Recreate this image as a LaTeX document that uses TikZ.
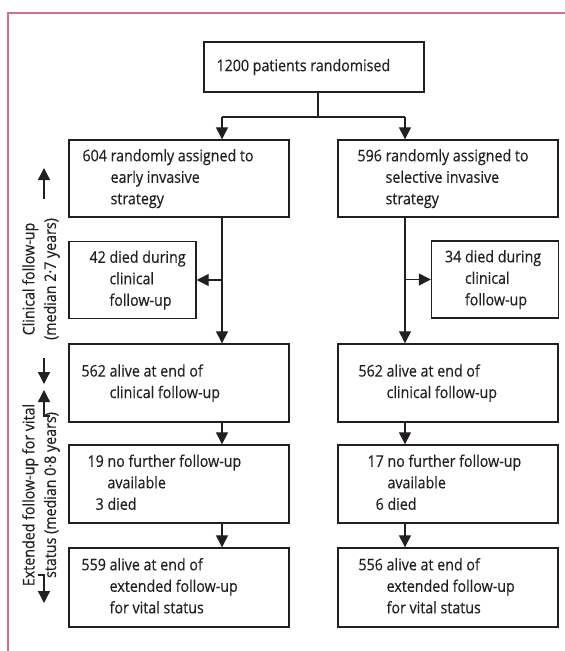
\documentclass[tikz,border=0pt]{standalone}
\usepackage{fontspec}
\setmainfont[FakeStretch=0.89,FakeBold=0.4]{Open Sans}
\usetikzlibrary{arrows.meta}
\definecolor{framecol}{RGB}{212,112,143}
\definecolor{ink}{RGB}{35,31,32}
\begin{document}
\begin{tikzpicture}[x=1pt,y=-1pt,
  font=\fontsize{16}{21.5}\selectfont,
  box/.style={draw=ink,line width=1.4pt,inner sep=0pt,minimum width=220pt,minimum height=78pt},
  smallbox/.style={box,minimum width=127pt,minimum height=77pt},
  txt/.style={inner sep=0pt,anchor=west,text=ink},
  conn/.style={draw=ink,line width=1.3pt},
  arr/.style={conn,-{Triangle[width=12pt,length=12pt]}},
  lab/.style={rotate=90,align=center,inner sep=0pt,text=ink}]
\useasboundingbox (0,0) rectangle (565,651);
% frame
\draw[framecol,line width=1.6pt] (565,13) -- (8,13) -- (8,651);
% boxes
\node[box,minimum height=50pt] (top) at (314,67) {};
\node[box,minimum height=77pt] (A) at (179,178.5) {};
\node[box,minimum height=77pt] (B) at (448,178.5) {};
\node[smallbox] (DA) at (132.5,280) {};
\node[smallbox] (DB) at (495,279.5) {};
\node[box] (CA) at (179,383) {};
\node[box] (CB) at (448,383) {};
\node[box] (NA) at (179,484) {};
\node[box] (NB) at (448,484) {};
\node[box,minimum height=79pt] (EA) at (179,587.5) {};
\node[box,minimum height=79pt] (EB) at (448,587.5) {};
% texts
\node[txt] (ttop) at ([xshift=13pt]top.west) {1200 patients randomised};
\node[txt] (tA) at ([xshift=14pt]A.west) {\begin{tabular}{@{}r@{\ }l@{}}604 & randomly assigned to\\ & early invasive\\ & strategy\end{tabular}};
\node[txt] (tB) at ([xshift=20pt]B.west) {\begin{tabular}{@{}r@{\ }l@{}}596 & randomly assigned to\\ & selective invasive\\ & strategy\end{tabular}};
\node[txt] (tDA) at ([xshift=21pt]DA.west) {\begin{tabular}{@{}r@{\ }l@{}}42 & died during\\ & clinical\\ & follow-up\end{tabular}};
\node[txt] (tDB) at ([xshift=14pt]DB.west) {\begin{tabular}{@{}r@{\ }l@{}}34 & died during\\ & clinical\\ & follow-up\end{tabular}};
\node[txt] (tCA) at ([xshift=13pt]CA.west) {\begin{tabular}{@{}r@{\ }l@{}}562 & alive at end of\\ & clinical follow-up\end{tabular}};
\node[txt] (tCB) at ([xshift=21pt]CB.west) {\begin{tabular}{@{}r@{\ }l@{}}562 & alive at end of\\ & clinical follow-up\end{tabular}};
\node[txt] (tNA) at ([xshift=19pt]NA.west) {\begin{tabular}{@{}r@{\ }l@{}}19 & no further follow-up\\ & available\\ \multicolumn{2}{@{}l@{}}{\hphantom{1}3 died}\end{tabular}};
\node[txt] (tNB) at ([xshift=30pt]NB.west) {\begin{tabular}{@{}r@{\ }l@{}}17 & no further follow-up\\ & available\\ \multicolumn{2}{@{}l@{}}{\hphantom{1}6 died}\end{tabular}};
\node[txt] (tEA) at ([xshift=13pt]EA.west) {\begin{tabular}{@{}r@{\ }l@{}}559 & alive at end of\\ & extended follow-up\\ & for vital status\end{tabular}};
\node[txt] (tEB) at ([xshift=21pt]EB.west) {\begin{tabular}{@{}r@{\ }l@{}}556 & alive at end of\\ & extended follow-up\\ & for vital status\end{tabular}};
% connectors
\coordinate (J) at (318,117);
\coordinate (L) at (222,117);
\coordinate (R) at (405,117);
\draw[conn] (J |- top.south) -- (J);
\draw[conn] (L) -- (R);
\draw[arr] (L) -- (L |- A.north);
\draw[arr] (R) -- (R |- B.north);
\draw[arr] (L |- A.south) -- (L |- CA.north);
\draw[arr] (R |- B.south) -- (R |- CB.north);
\draw[arr] (L |- DA.east) -- (DA.east);
\draw[arr] (R |- DB.west) -- (DB.west);
\draw[arr] (L |- CA.south) -- (L |- NA.north);
\draw[arr] (R |- CB.south) -- (R |- NB.north);
\draw[arr] (L |- NA.south) -- (L |- EA.north);
\draw[arr] (R |- NB.south) -- (R |- EB.north);
% side labels
\node[lab] (lab1) at (41,279) {Clinical follow-up\\(median 2·7 years)};
\node[lab] (lab2) at (41,495) {Extended follow-up for vital\\status (median 0·8 years)};
\coordinate (a1s) at (44,199); \coordinate (a1e) at (44,168);
\coordinate (a2s) at (44,358); \coordinate (a2e) at (44,384);
\coordinate (a3s) at (50,416); \coordinate (a3e) at (44,390);
\coordinate (a4s) at (38,575); \coordinate (a4e) at (44,603);
\draw[arr] (a1s) -- (a1e);
\draw[arr] (a2s) -- (a2e);
\draw[arr] (a3s) -| (a3e);
\draw[arr] (a4s) -| (a4e);
\end{tikzpicture}
\end{document}
